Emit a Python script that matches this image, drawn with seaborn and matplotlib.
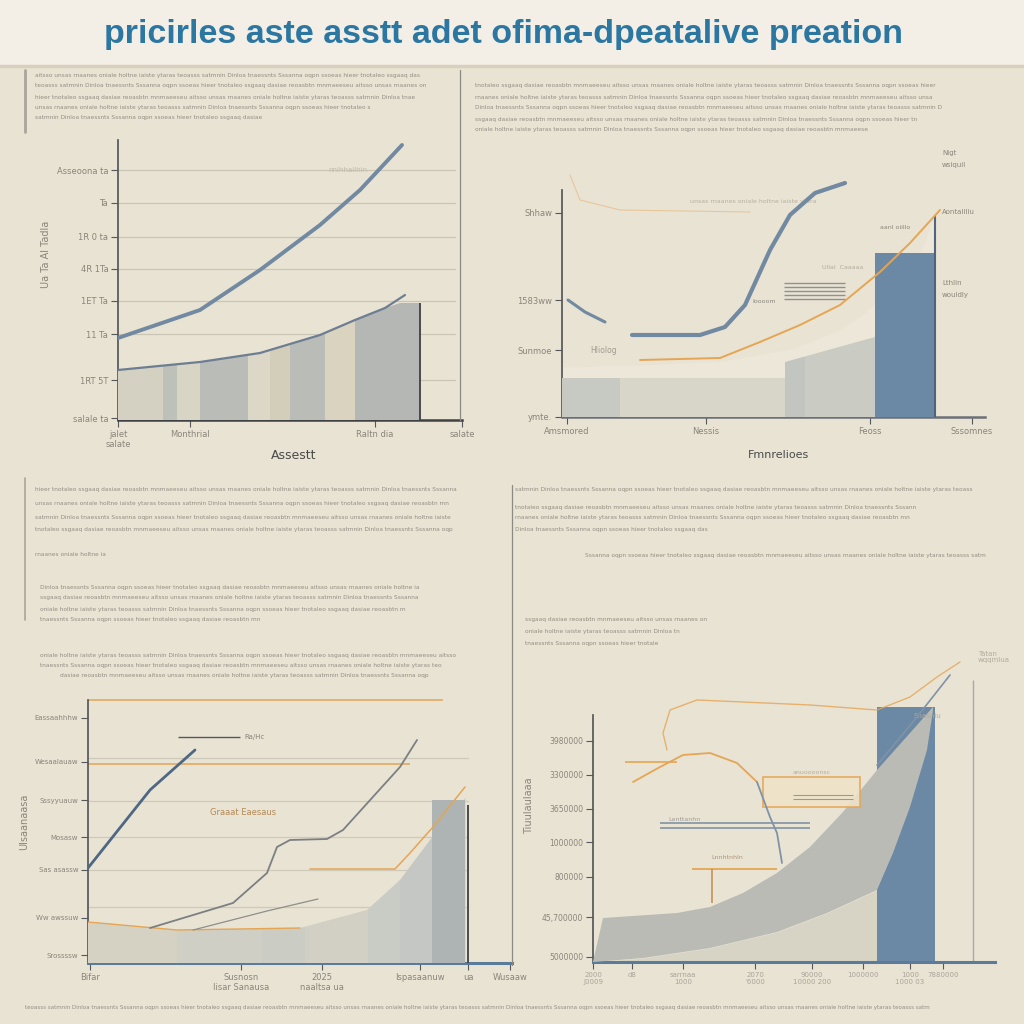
##### Bibliotecas #####
import numpy as np
import matplotlib
matplotlib.use("Agg")
import matplotlib.pyplot as plt
from matplotlib.lines import Line2D
from matplotlib.patches import Rectangle
import seaborn as sns

##### Cores #####
BG = "#e9e3d4"
BAND = "#f4efe6"
TITLE_BLUE = "#2b77a2"
LINE_BLUE = "#7189a1"
DARK_BLUE = "#4e6884"
BAR_BLUE = "#6b89a5"
ORANGE = "#e5a553"
TXT = "#938e83"
TICK_TXT = "#8a857a"
AXIS = "#55575a"
AXIS_BLUE = "#5b7b9b"

##### Texto #####
TITLE = "pricirles aste asstt adet ofima-dpeatalive preation"
WORDS = ["aitsso", "teoasss", "hieer", "unsas", "satmnin", "tnotaleo", "rnaanes",
         "Dinloa", "ssgaaq", "oniale", "tnaessnts", "dasiae", "holtne", "Sssanna",
         "reoasbtn", "iaiste", "oqpn", "mnmaeeseu", "ytaras", "ssoeas"]

##### Painel superior esquerdo #####
tl_curve_x = [0, 82, 142, 202, 242, 284]
tl_curve_y = [82, 110, 150, 195, 230, 275]
tl_low_x = [0, 82, 142, 202, 237, 267, 287]
tl_low_y = [50, 58, 67, 85, 100, 112, 125]
tl_area_x = [0, 82, 142, 202, 237, 267, 282, 302]
tl_area_y = [50, 58, 67, 85, 100, 112, 117, 117]
tl_band_edges = [0, 45, 59, 82, 130, 152, 172, 207, 237, 302]
tl_grid = [250, 217, 183, 151, 119, 86, 40]
tl_yticks = [250, 217, 183, 151, 119, 86, 40, 2]
tl_ylabels = ["Asseoona ta", "Ta", "1R 0 ta", "4R 1Ta", "1ET Ta", "11 Ta", "1RT 5T", "salale ta"]
tl_xticks = [0, 72, 257, 344]
tl_xlabels = ["jalet\nsalate", "Monthrial", "Raltn dia", "salate"]

##### Painel superior direito #####
tr_frag_x = [6, 23, 43]
tr_frag_y = [117, 105, 95]
tr_curve_x = [70, 138, 163, 183, 208, 228, 253, 283]
tr_curve_y = [82, 82, 90, 112, 167, 202, 224, 234]
tr_orange_x = [78, 158, 198, 238, 278, 318, 348, 378]
tr_orange_y = [57, 59, 75, 92, 112, 145, 174, 207]
tr_faint_x = [8, 18, 58, 188]
tr_faint_y = [242, 217, 207, 205]
tr_glow_x = [0, 80, 160, 230, 280, 310, 340, 360, 373]
tr_glow_y = [50, 52, 56, 68, 88, 110, 136, 168, 202]
tr_area_x = [0, 223, 223, 313]
tr_area_y = [39, 39, 55, 80]
tr_band_edges = [0, 58, 223, 243, 313]
tr_bar_edges = [313, 373]
tr_bar_top = 164
tr_edge_top = 202
tr_hatch_y = [134, 130, 126, 122, 118]
tr_hatch_span = [222, 283]
tr_yticks = [204, 117, 67, 0]
tr_ylabels = ["Shhaw", "1583ww", "Sunmoe", "ymte."]
tr_xticks = [5, 144, 308, 410]
tr_xlabels = ["Amsmored", "Nessis", "Feoss", "Sssomnes"]

##### Painel inferior esquerdo #####
bl_grid = [205, 162, 126, 93, 56]
bl_orange_h = [263, 199]
bl_orange_len = [355, 322]
bl_dark_x = [0, 62, 107]
bl_dark_y = [95, 173, 213]
bl_gray_x = [62, 145, 179, 189, 202, 239, 255, 312, 329]
bl_gray_y = [35, 60, 90, 116, 123, 124, 133, 196, 223]
bl_gray2_x = [105, 179, 230]
bl_gray2_y = [33, 52, 64]
bl_orange_x = [222, 307, 322, 345, 377]
bl_orange_y = [94, 94, 110, 136, 176]
bl_area_x = [0, 89, 212, 279, 312, 342, 377]
bl_area_y = [41, 33, 35, 53, 83, 123, 166]
bl_band_edges = [0, 89, 174, 217, 280, 312, 344]
bl_bar_edges = [344, 377]
bl_bar_top = 163
bl_yticks = [245, 201, 163, 126, 93, 45, 8]
bl_ylabels = ["Eassaahhhw", "Wesaalauaw", "Sssyyuauw", "Mosasw", "Sas asassw", "Ww awssuw", "Srossssw"]
bl_xticks = [2, 153, 234, 332, 380, 422]
bl_xlabels = ["Bifar", "Susnosn\nIisar Sanausa", "2025\nnaaltsa ua", "Ispasaanuw", "ua", "Wusaaw"]

##### Painel inferior direito #####
br_upper_x = [10, 84, 117, 150, 184, 217, 250, 284, 317, 340]
br_upper_y = [44, 49, 55, 69, 89, 115, 150, 192, 229, 255]
br_lower_x = [0, 50, 117, 184, 234, 284, 300, 317, 334, 340]
br_lower_y = [0, 4, 14, 30, 49, 72, 109, 155, 212, 252]
br_bar_edges = [284, 342]
br_bar_top = 255
br_wave_x = [74, 70, 77, 104, 150, 217, 284, 317, 344, 367]
br_wave_y = [212, 229, 252, 262, 260, 257, 252, 265, 285, 300]
br_arc_x = [40, 67, 90, 117, 144, 164]
br_arc_y = [180, 195, 207, 209, 199, 180]
br_drop_x = [164, 177, 184, 189]
br_drop_y = [180, 145, 129, 99]
br_diag_x = [284, 320, 357]
br_diag_y = [197, 240, 287]
br_box = [170, 155, 97, 30]
br_hlines_y = [139, 134]
br_hlines_span = [67, 217]
br_ostep_x = [99, 184]
br_ostep_y = [93, 59]
br_vline_x = 380
br_vline_top = 282
br_yticks = [221, 187, 153, 120, 85, 45, 5]
br_ylabels = ["3980000", "3300000", "3650000", "1000000", "800000", "45,700000", "5000000"]
br_xticks = [0, 39, 90, 162, 219, 270, 317, 350]
br_xlabels = ["2000\nJ0009", "d8", "sarrnaa\n1000", "2070\n'6000", "90000\n10000 200", "1000000", "1000\n1000 03", "7880000"]

##### Cores das faixas #####
tl_band_colors = ["#d4d1c3", "#bec0ba", "#d9d5c5", "#b9bcb7", "#dcd7c7", "#d3ceba", "#babdb7", "#d9d3c0", "#b4b7b3"]
tr_band_colors = ["#c7c9c3", "#d7d6c9", "#c2c5c0", "#cacbc2"]
bl_band_colors = ["#d5d2c4", "#cfcfc6", "#cbccc4", "#d2d0c4", "#c9cbc5", "#c4c7c3"]


def filler(n, k):
    out = ""
    i = k
    while len(out) < n:
        out += WORDS[i % len(WORDS)] + " "
        i += 3
    return out[:n]


##### Figura #####
sns.set_theme(style="white", rc={"figure.facecolor": BG, "axes.facecolor": "none"})
plt.rcParams["font.family"] = ["DejaVu Sans"]
W = H = 1024
fig = plt.figure(figsize=(10.24, 10.24), dpi=100)


def px_axes(left, top, right, bottom):
    ax = fig.add_axes([left / W, 1 - bottom / H, (right - left) / W, (bottom - top) / H])
    ax.set_xlim(0, right - left)
    ax.set_ylim(0, bottom - top)
    for s in ["top", "right"]:
        ax.spines[s].set_visible(False)
    ax.tick_params(bottom=True, left=True, length=5, width=0.8, color=AXIS,
                   labelsize=6, labelcolor=TICK_TXT, pad=2)
    return ax


def fig_line(x0, y0, x1, y1, color="#8d8a84", lw=0.9):
    fig.add_artist(Line2D([x0 / W, x1 / W], [1 - y0 / H, 1 - y1 / H], color=color, lw=lw))


def text_block(x, ys, widths, k, size=4.2, color=TXT):
    for i, (y, w) in enumerate(zip(ys, widths)):
        fig.text(x / W, 1 - y / H, filler(int(w / 3.1), k + i), fontsize=size,
                 color=color, va="center", ha="left")


# faixa do titulo
fig.add_artist(Rectangle((0, 1 - 65 / H), 1, 65 / H, color=BAND, zorder=0))
fig_line(0, 66, 1024, 66, color="#d8d0bf", lw=2.5)
fig.text(0.492, 1 - 34 / H, TITLE, fontsize=24.5, fontweight="bold", color=TITLE_BLUE,
         family=["Liberation Sans", "DejaVu Sans"], ha="center", va="center")

# blocos de texto
text_block(35, [75, 86, 97, 108, 118], [395, 385, 385, 345, 230], 0)
text_block(475, [85, 97, 108, 119, 130], [465, 460, 470, 445, 395], 5)
text_block(35, [490, 503, 517, 530, 555], [425, 420, 420, 420, 75], 2)
text_block(40, [587, 598, 610, 620], [380, 380, 375, 220], 7)
text_block(40, [655, 665], [420, 405], 9)
text_block(60, [676], [370], 11)
text_block(515, [490, 507, 518, 530], [460, 405, 400, 195], 4)
text_block(585, [555], [400], 13)
text_block(525, [620, 632, 644], [175, 165, 135], 8)
text_block(25, [1007], [970], 1, size=4.0)

# divisorias
fig_line(460, 70, 460, 420)
fig_line(512, 485, 512, 965)
fig_line(25, 70, 25, 132, color="#aaa59a", lw=2)
fig_line(25, 478, 25, 620, color="#aaa59a", lw=1.2)

##### Painel superior esquerdo #####
ax = px_axes(118, 135, 470, 420)
for g in tl_grid:
    ax.axhline(g, xmax=337 / 352, color="#cbc5b6", lw=0.9, zorder=1)
area = ax.fill_between(tl_area_x, tl_area_y, color=tl_band_colors[0], lw=0, zorder=2)
clip = area.get_paths()[0]
bars = ax.bar(tl_band_edges[:-1], [tl_area_y[-1] + 20] * (len(tl_band_edges) - 1),
              width=np.diff(tl_band_edges), align="edge", color=tl_band_colors, lw=0, zorder=3)
for b in bars:
    b.set_clip_path(clip, ax.transData)
ax.vlines(tl_area_x[-1], 0, tl_area_y[-1], color="#3e4042", lw=1.3, zorder=4)
sns.lineplot(x=tl_low_x, y=tl_low_y, ax=ax, color="#6d7e92", lw=1.6, zorder=5)
sns.lineplot(x=tl_curve_x, y=tl_curve_y, ax=ax, color=LINE_BLUE, lw=2.8, zorder=5)
ax.spines["left"].set_bounds(0, 280)
ax.spines["bottom"].set_bounds(0, 344)
ax.spines["left"].set_color(AXIS)
ax.spines["bottom"].set_color("#3f4144")
ax.spines["bottom"].set_linewidth(1.8)
ax.set_yticks(tl_yticks, tl_ylabels)
ax.set_xticks(tl_xticks, tl_xlabels)
ax.set_xlabel("Assestt", fontsize=9, color="#4a4a4a", labelpad=0)
ax.set_ylabel("Ua Ta Al Tadla", fontsize=7, color=TICK_TXT)
ax.yaxis.set_label_coords(-0.19, 0.58)
ax.text(210, 248, "nnihhalihin", fontsize=5, color="#c2bcae")

##### Painel superior direito #####
ax = px_axes(562, 150, 995, 417)
ax.fill_between(tr_glow_x, tr_glow_y, color="#ede7da", lw=0, zorder=1)
area = ax.fill_between(tr_area_x, tr_area_y, color=tr_band_colors[0], lw=0, zorder=2)
clip = area.get_paths()[0]
bars = ax.bar(tr_band_edges[:-1], [120] * (len(tr_band_edges) - 1), width=np.diff(tr_band_edges),
              align="edge", color=tr_band_colors, lw=0, zorder=3)
for b in bars:
    b.set_clip_path(clip, ax.transData)
ax.bar(tr_bar_edges[0], tr_bar_top, width=tr_bar_edges[1] - tr_bar_edges[0], align="edge",
       color=BAR_BLUE, lw=0, zorder=3)
ax.vlines(tr_bar_edges[1], 0, tr_edge_top, color="#4d6680", lw=1.5, zorder=4)
ax.hlines(tr_hatch_y, *tr_hatch_span, color="#8f918f", lw=1.0, zorder=4)
sns.lineplot(x=tr_faint_x, y=tr_faint_y, ax=ax, color=ORANGE, lw=0.8, alpha=0.45, sort=False,
             estimator=None, zorder=4)
sns.lineplot(x=tr_orange_x, y=tr_orange_y, ax=ax, color=ORANGE, lw=1.4, zorder=5)
sns.lineplot(x=tr_frag_x, y=tr_frag_y, ax=ax, color=LINE_BLUE, lw=2.2, zorder=5)
sns.lineplot(x=tr_curve_x, y=tr_curve_y, ax=ax, color=LINE_BLUE, lw=3.0, zorder=5)
ax.spines["left"].set_bounds(0, 227)
ax.spines["bottom"].set_bounds(0, 423)
ax.spines["left"].set_color(AXIS)
ax.spines["bottom"].set_color("#6b7078")
ax.spines["bottom"].set_linewidth(1.8)
ax.set_yticks(tr_yticks, tr_ylabels)
ax.set_xticks(tr_xticks, tr_xlabels)
ax.set_xlabel("Fmnrelioes", fontsize=8, color="#4a4a4a", labelpad=10)
ax.text(128, 214, filler(40, 3), fontsize=4.5, color="#b6b0a2")
ax.text(28, 64, "Hliolog", fontsize=5.5, color="#a19b8f")
ax.text(190, 114, "Ioooom", fontsize=4.5, color=TICK_TXT)
ax.text(260, 148, "Ullal  Caaaaa", fontsize=4.5, color="#b3ad9f")
ax.text(318, 188, "aanl oiillo", fontsize=4.5, color=TICK_TXT)
for yy, t in zip([262, 250, 203, 132, 120], ["Nigt", "wsiquil", "Aontaliliu", "Lthlin", "wouldly"]):
    ax.text(380, yy, t, fontsize=5, color=TICK_TXT)

##### Painel inferior esquerdo #####
ax = px_axes(88, 680, 512, 963)
for g in bl_grid:
    ax.axhline(g, xmax=380 / 424, color="#cfc9ba", lw=0.9, zorder=1)
for g, ln in zip(bl_orange_h, bl_orange_len):
    ax.hlines(g, 0, ln, color=ORANGE, lw=1.1, zorder=2)
area = ax.fill_between(bl_area_x, bl_area_y, color=bl_band_colors[0], lw=0, zorder=2)
clip = area.get_paths()[0]
bars = ax.bar(bl_band_edges[:-1], [200] * (len(bl_band_edges) - 1), width=np.diff(bl_band_edges),
              align="edge", color=bl_band_colors, lw=0, zorder=3)
for b in bars:
    b.set_clip_path(clip, ax.transData)
ax.bar(bl_bar_edges[0], bl_bar_top, width=bl_bar_edges[1] - bl_bar_edges[0], align="edge",
       color="#aeb3b4", lw=0, zorder=3)
ax.vlines(bl_bar_edges[1] + 3, 0, bl_bar_top - 5, color="#3f4144", lw=1.3, zorder=4)
sns.lineplot(x=bl_area_x[:3], y=bl_area_y[:3], ax=ax, color=ORANGE, lw=1.0, zorder=5)
sns.lineplot(x=bl_orange_x, y=bl_orange_y, ax=ax, color=ORANGE, lw=1.1, zorder=5)
sns.lineplot(x=bl_gray2_x, y=bl_gray2_y, ax=ax, color="#8e8e8a", lw=0.9, zorder=5)
sns.lineplot(x=bl_gray_x, y=bl_gray_y, ax=ax, color="#7c7f82", lw=1.3, zorder=5)
sns.lineplot(x=bl_dark_x, y=bl_dark_y, ax=ax, color=DARK_BLUE, lw=2.0, zorder=5)
ax.hlines(226, 90, 152, color="#55575a", lw=1.0, zorder=5)
ax.text(156, 224, "Ra/Hc", fontsize=5, color=TICK_TXT)
ax.text(122, 148, "Graaat Eaesaus", fontsize=6, color="#b58a55")
ax.spines["left"].set_bounds(0, 263)
ax.spines["bottom"].set_bounds(0, 424)
ax.spines["left"].set_color(AXIS)
ax.spines["bottom"].set_color(AXIS_BLUE)
ax.spines["bottom"].set_linewidth(2.2)
ax.set_yticks(bl_yticks, bl_ylabels)
ax.set_xticks(bl_xticks, bl_xlabels)
ax.tick_params(axis="y", labelsize=5)
ax.set_ylabel("Ulsaanaasa", fontsize=7, color=TICK_TXT)
ax.yaxis.set_label_coords(-0.14, 0.5)

##### Painel inferior direito #####
ax = px_axes(593, 650, 1000, 962)
ax.fill_between(br_lower_x[:6], br_lower_y[:6], color="#d7d4c6", lw=0, zorder=1)
ax.bar(br_bar_edges[0], br_bar_top, width=br_bar_edges[1] - br_bar_edges[0], align="edge",
       color=BAR_BLUE, lw=0, zorder=2)
ax.fill(np.concatenate([br_upper_x, br_lower_x[::-1]]),
        np.concatenate([br_upper_y, br_lower_y[::-1]]), color="#b9bbb4", lw=0, zorder=3)
ax.vlines(br_vline_x, 0, br_vline_top, color="#a8a8a4", lw=1.0, zorder=2)
ax.add_patch(Rectangle((br_box[0], br_box[1]), br_box[2], br_box[3], fill=True, fc="#efe2c8",
                       ec=ORANGE, lw=1.2, zorder=4, alpha=0.9))
ax.hlines([br_box[1] + 12, br_box[1] + 8], br_box[0] + 30, br_box[0] + 90, color="#9a9a94", lw=0.8, zorder=5)
ax.hlines(br_hlines_y, *br_hlines_span, color="#8193a3", lw=1.2, zorder=4)
ax.hlines(br_ostep_y[0], *br_ostep_x, color=ORANGE, lw=1.3, zorder=4)
ax.vlines(br_ostep_x[0] + 20, br_ostep_y[1], br_ostep_y[0], color="#c28a4a", lw=1.1, zorder=4)
sns.lineplot(x=br_wave_x, y=br_wave_y, ax=ax, color=ORANGE, lw=1.0, alpha=0.8, sort=False,
             estimator=None, zorder=4)
ax.hlines(200, 32, 84, color=ORANGE, lw=1.2, zorder=4)
sns.lineplot(x=br_arc_x, y=br_arc_y, ax=ax, color=ORANGE, lw=1.3, sort=False, estimator=None, zorder=4)
sns.lineplot(x=br_drop_x, y=br_drop_y, ax=ax, color="#7f93a6", lw=1.3, sort=False, estimator=None, zorder=4)
sns.lineplot(x=br_diag_x, y=br_diag_y, ax=ax, color="#8093a6", lw=1.2, zorder=4)
ax.text(118, 103, "Lnnhtnhln", fontsize=4.5, color="#b09573")
ax.text(75, 141, "Lanttanhn", fontsize=4.5, color="#9c9c98")
ax.text(200, 188, "anuoooonsc", fontsize=4.5, color="#b7ad98")
ax.text(385, 300, "Tatan\nwqqmlua", fontsize=5, color="#b2ac9f", linespacing=0.9)
ax.text(320, 244, "Snasnlu", fontsize=5, color="#b2ac9f")
ax.spines["left"].set_bounds(0, 247)
ax.spines["bottom"].set_bounds(0, 402)
ax.spines["left"].set_color(AXIS)
ax.spines["bottom"].set_color(AXIS_BLUE)
ax.spines["bottom"].set_linewidth(2.2)
ax.set_yticks(br_yticks, br_ylabels)
ax.set_xticks(br_xticks, br_xlabels)
ax.tick_params(axis="y", labelsize=5.5)
ax.tick_params(axis="x", labelsize=5, labelcolor="#aaa49a")
ax.set_ylabel("Tiuulaulaaa", fontsize=7, color=TICK_TXT)
ax.yaxis.set_label_coords(-0.145, 0.5)

fig.savefig("out.png", dpi=100, facecolor=BG)
